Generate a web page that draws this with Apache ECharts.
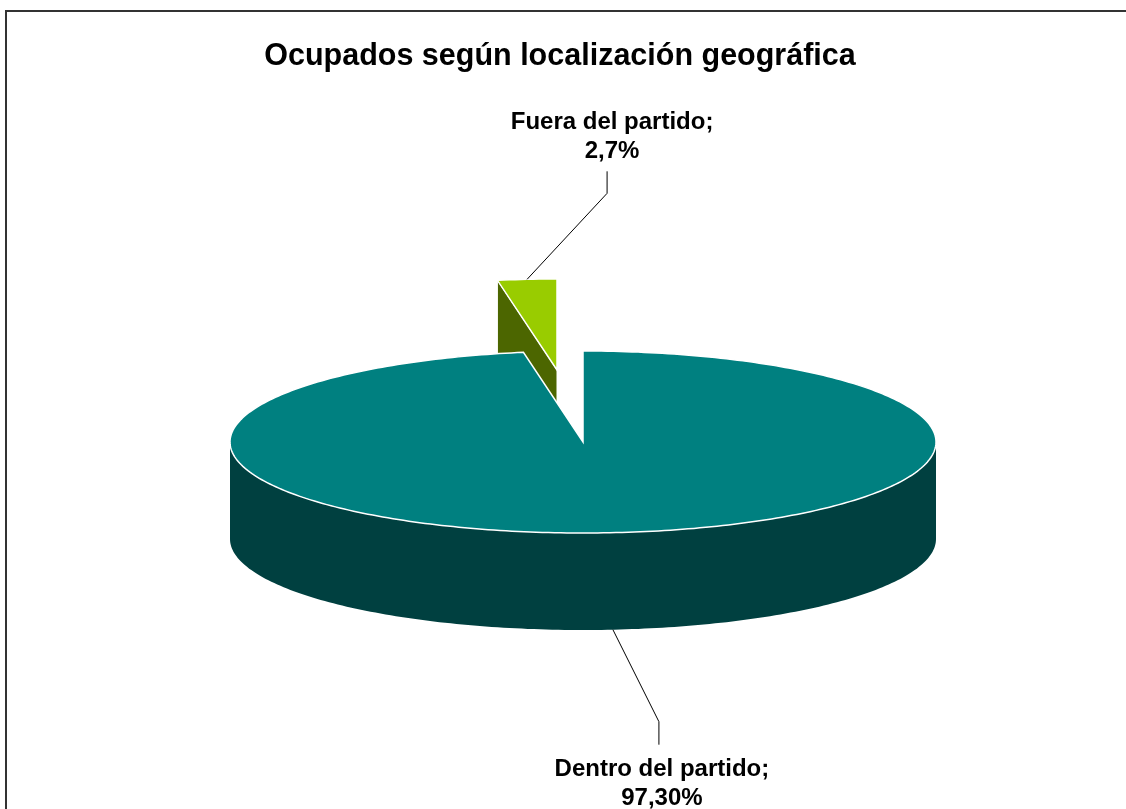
<!DOCTYPE html>
<html>
<head>
<meta charset="utf-8">
<title>Ocupados según localización geográfica</title>
<script src="https://cdn.jsdelivr.net/npm/echarts@6/dist/echarts.min.js"></script>
<style>
  html, body { margin: 0; padding: 0; background: #fff; }
  #chart { width: 1126px; height: 809px; }
</style>
</head>
<body>
<div id="chart"></div>
<script>
// data
const categories = ['Dentro del partido', 'Fuera del partido'];
const values = [97.3, 2.7];
const valueLabels = ['97,30%', '2,7%'];
const exploded = [false, true];

// look
const topColors = ['#008080', '#99CC00'];
const sideColors = ['#004040', '#4C6600'];

// pseudo 3d pie geometry (pixels)
const pie = { cx: 583, cy: 442, rx: 353, ry: 91, depth: 97 };
const explodeShift = [-26, -72];
// leader line: anchor on slice -> elbow -> short straight leg, then text
const labelLayout = [
  { anchor: 'bottom', elbow: [46, 92], leg: 23, dx: 3, gap: 10 },
  { anchor: 'top', elbow: [80, -86], leg: -22, dx: 5, gap: 5 }
];

const total = values.reduce((a, b) => a + b, 0);
const DEG = Math.PI / 180;

function pt(c, t, drop) {
  return [c[0] + pie.rx * Math.sin(t), c[1] - pie.ry * Math.cos(t) + (drop || 0)];
}

function arc(c, a, b, drop) {
  const steps = Math.max(2, Math.ceil(Math.abs(b - a) / DEG));
  const pts = [];
  for (let i = 0; i <= steps; i++) pts.push(pt(c, a + (b - a) * i / steps, drop));
  return pts;
}

function renderSlice(params, api) {
  const i = params.dataIndex;
  const before = values.slice(0, i).reduce((a, b) => a + b, 0);
  const start = before / total * 2 * Math.PI;
  const end = start + api.value(1) / total * 2 * Math.PI;
  const c = exploded[i]
    ? [pie.cx + explodeShift[0], pie.cy + explodeShift[1]]
    : [pie.cx, pie.cy];
  const d = pie.depth;
  const kids = [];

  // radial cut faces, only those turned to the viewer
  if (Math.sin(start) < -1e-6) {
    kids.push({
      type: 'polygon', z2: 1,
      shape: { points: [c, pt(c, start), pt(c, start, d), [c[0], c[1] + d]] },
      style: { fill: sideColors[i], stroke: '#fff', lineWidth: 1 }
    });
  }
  if (Math.sin(end) > 1e-6) {
    kids.push({
      type: 'polygon', z2: 1,
      shape: { points: [c, pt(c, end), pt(c, end, d), [c[0], c[1] + d]] },
      style: { fill: sideColors[i], stroke: '#fff', lineWidth: 1 }
    });
  }

  // outer wall, front half only
  const lo = Math.max(start, Math.PI / 2);
  const hi = Math.min(end, Math.PI * 1.5);
  if (lo < hi) {
    kids.push({
      type: 'polygon', z2: 2,
      shape: { points: arc(c, lo, hi, 0).concat(arc(c, hi, lo, d)) },
      style: { fill: sideColors[i] }
    });
  }

  // top face
  kids.push({
    type: 'polygon', z2: 3,
    shape: { points: [c].concat(arc(c, start, end, 0)) },
    style: { fill: topColors[i], stroke: '#fff', lineWidth: 1.5 }
  });

  // label with leader line
  const lay = labelLayout[i];
  const mid = (start + end) / 2;
  const a = pt(c, mid, lay.anchor === 'bottom' ? d : 0);
  const e = [a[0] + lay.elbow[0], a[1] + lay.elbow[1]];
  const f = [e[0], e[1] + lay.leg];
  kids.push({
    type: 'polyline', z2: 4,
    shape: { points: [a, e, f] },
    style: { stroke: '#000', lineWidth: 1, fill: null }
  });
  kids.push({
    type: 'text', z2: 5,
    x: f[0] + lay.dx,
    y: f[1] + (lay.leg > 0 ? lay.gap : -lay.gap),
    style: {
      text: categories[i] + ';\n' + valueLabels[i],
      fontFamily: 'Liberation Sans, Arial, sans-serif',
      fontWeight: 'bold',
      fontSize: 24,
      lineHeight: 29,
      fill: '#000',
      align: 'center',
      verticalAlign: lay.leg > 0 ? 'top' : 'bottom'
    }
  });

  return { type: 'group', children: kids };
}

const chart = echarts.init(document.getElementById('chart'));

chart.setOption({
  backgroundColor: '#fff',
  animation: false,
  title: {
    text: 'Ocupados según localización geográfica',
    left: 555,
    top: 36,
    textAlign: 'center',
    textStyle: {
      fontFamily: 'Liberation Sans, Arial, sans-serif',
      fontWeight: 'bold',
      fontSize: 30.5,
      color: '#000'
    }
  },
  graphic: [{
    type: 'rect',
    shape: { x: 6, y: 11, width: 1200, height: 900 },
    style: { fill: null, stroke: '#333', lineWidth: 2 },
    silent: true
  }],
  series: [{
    type: 'custom',
    coordinateSystem: 'none',
    renderItem: renderSlice,
    data: categories.map((name, i) => ({ name: name, value: [i, values[i]] }))
  }]
});
</script>
</body>
</html>
